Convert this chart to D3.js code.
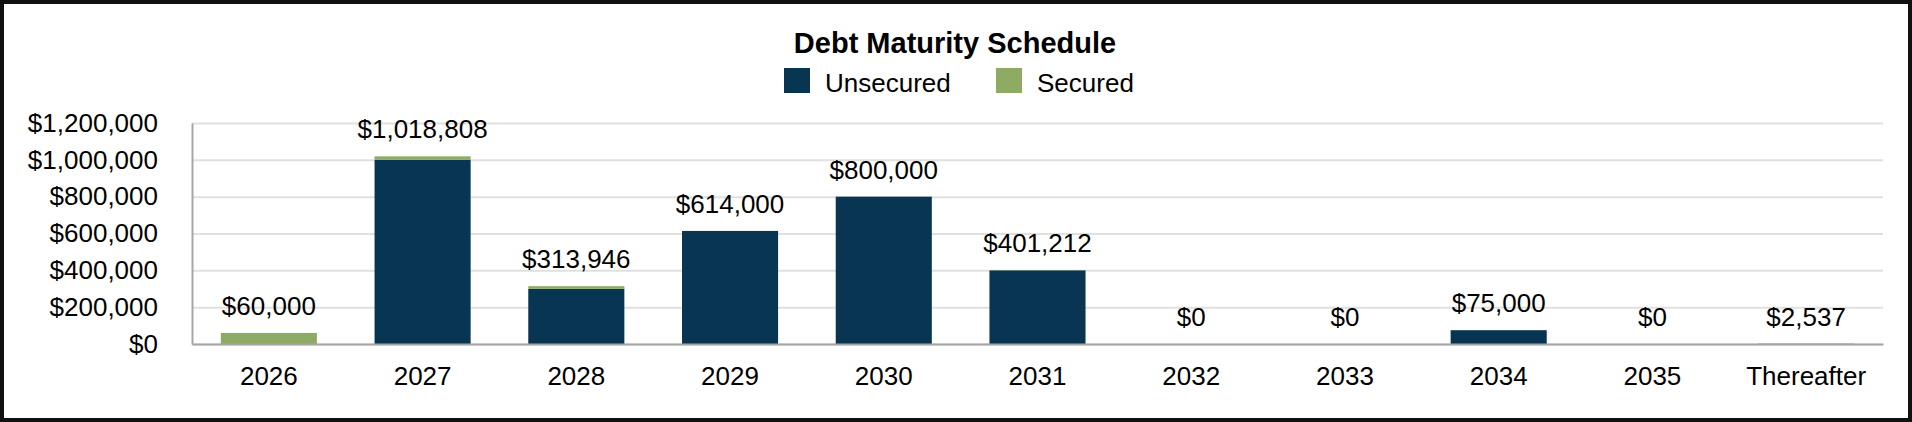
<!DOCTYPE html>
<html>
<head>
<meta charset="utf-8">
<script src="https://cdn.jsdelivr.net/npm/d3@7"></script>
<style>
  body { margin: 0; background: #fff; }
  svg { display: block; font-family: "Liberation Sans", Arial, sans-serif; }
</style>
</head>
<body>
<script>
const categories = ["2026", "2027", "2028", "2029", "2030", "2031", "2032", "2033", "2034", "2035", "Thereafter"];
const unsecured = [0, 1000000, 300000, 614000, 800000, 400000, 0, 0, 75000, 0, 0];
const secured = [60000, 18808, 13946, 0, 0, 1212, 0, 0, 0, 0, 2537];
const yTicks = [0, 200000, 400000, 600000, 800000, 1000000, 1200000];
const seriesNames = ["Unsecured", "Secured"];
const colors = ["#083551", "#8eab63"];

const width = 1912;
const height = 422;
const margin = { top: 123, right: 29, bottom: 78, left: 192 };
const chartWidth = width - margin.left - margin.right;
const chartHeight = height - margin.top - margin.bottom;

const svg = d3.select("body")
  .append("svg")
  .attr("width", width)
  .attr("height", height);

// frame
svg.append("rect")
  .attr("x", 2)
  .attr("y", 2)
  .attr("width", width - 4)
  .attr("height", height - 4)
  .attr("fill", "#fff")
  .attr("stroke", "#111")
  .attr("stroke-width", 4);

// title
svg.append("text")
  .attr("x", 955)
  .attr("y", 53)
  .attr("text-anchor", "middle")
  .attr("font-size", 29)
  .attr("font-weight", "bold")
  .attr("fill", "#000")
  .text("Debt Maturity Schedule");

// legend
const legendX = [784, 996];
const legend = svg.append("g");
seriesNames.forEach((name, i) => {
  legend.append("rect")
    .attr("x", legendX[i])
    .attr("y", 68)
    .attr("width", 26)
    .attr("height", 25)
    .attr("fill", colors[i]);
  legend.append("text")
    .attr("x", legendX[i] + 41)
    .attr("y", 92)
    .attr("font-size", 26)
    .attr("fill", "#000")
    .text(name);
});

const data = categories.map((c, i) => ({ name: c, Unsecured: unsecured[i], Secured: secured[i] }));
const stacked = d3.stack().keys(seriesNames)(data);

const x = d3.scaleBand()
  .domain(categories)
  .range([0, chartWidth])
  .paddingInner(0.375)
  .paddingOuter(0.1875);

const y = d3.scaleLinear()
  .domain([0, 1200000])
  .range([chartHeight, 0]);

const g = svg.append("g")
  .attr("transform", `translate(${margin.left}, ${margin.top})`);

// gridlines
g.append("g")
  .call(d3.axisLeft(y).tickValues(yTicks).tickSize(-chartWidth).tickFormat(""))
  .call(a => a.select(".domain").remove())
  .selectAll("line")
  .attr("stroke", "#e0e0e0")
  .attr("stroke-width", 2);

// y axis labels
g.append("g")
  .call(d3.axisLeft(y).tickValues(yTicks).tickSize(0).tickPadding(34)
    .tickFormat(d => "$" + d3.format(",")(d)))
  .call(a => a.select(".domain").attr("stroke", "#a6a6a6").attr("stroke-width", 2))
  .selectAll("text")
  .attr("font-size", 26)
  .attr("font-family", "Liberation Sans, Arial, sans-serif")
  .attr("fill", "#000");

// bars
g.selectAll(".series")
  .data(stacked)
  .enter()
  .append("g")
    .attr("fill", (d, i) => colors[i])
  .selectAll("rect")
  .data(d => d)
  .enter()
  .append("rect")
    .attr("x", d => x(d.data.name))
    .attr("y", d => y(d[1]))
    .attr("width", x.bandwidth())
    .attr("height", d => y(d[0]) - y(d[1]));

// x axis
g.append("g")
  .attr("transform", `translate(0, ${chartHeight})`)
  .call(d3.axisBottom(x).tickSize(0).tickSizeOuter(0).tickPadding(23))
  .call(a => a.select(".domain").attr("stroke", "#a6a6a6").attr("stroke-width", 2))
  .selectAll("text")
  .attr("font-size", 26)
  .attr("font-family", "Liberation Sans, Arial, sans-serif")
  .attr("fill", "#000");

// totals
g.selectAll(".total")
  .data(data)
  .enter()
  .append("text")
    .attr("x", d => x(d.name) + x.bandwidth() / 2)
    .attr("y", d => y(d.Unsecured + d.Secured) - 18)
    .attr("text-anchor", "middle")
    .attr("font-size", 26)
    .attr("fill", "#000")
    .text(d => "$" + d3.format(",")(d.Unsecured + d.Secured));
</script>
</body>
</html>
